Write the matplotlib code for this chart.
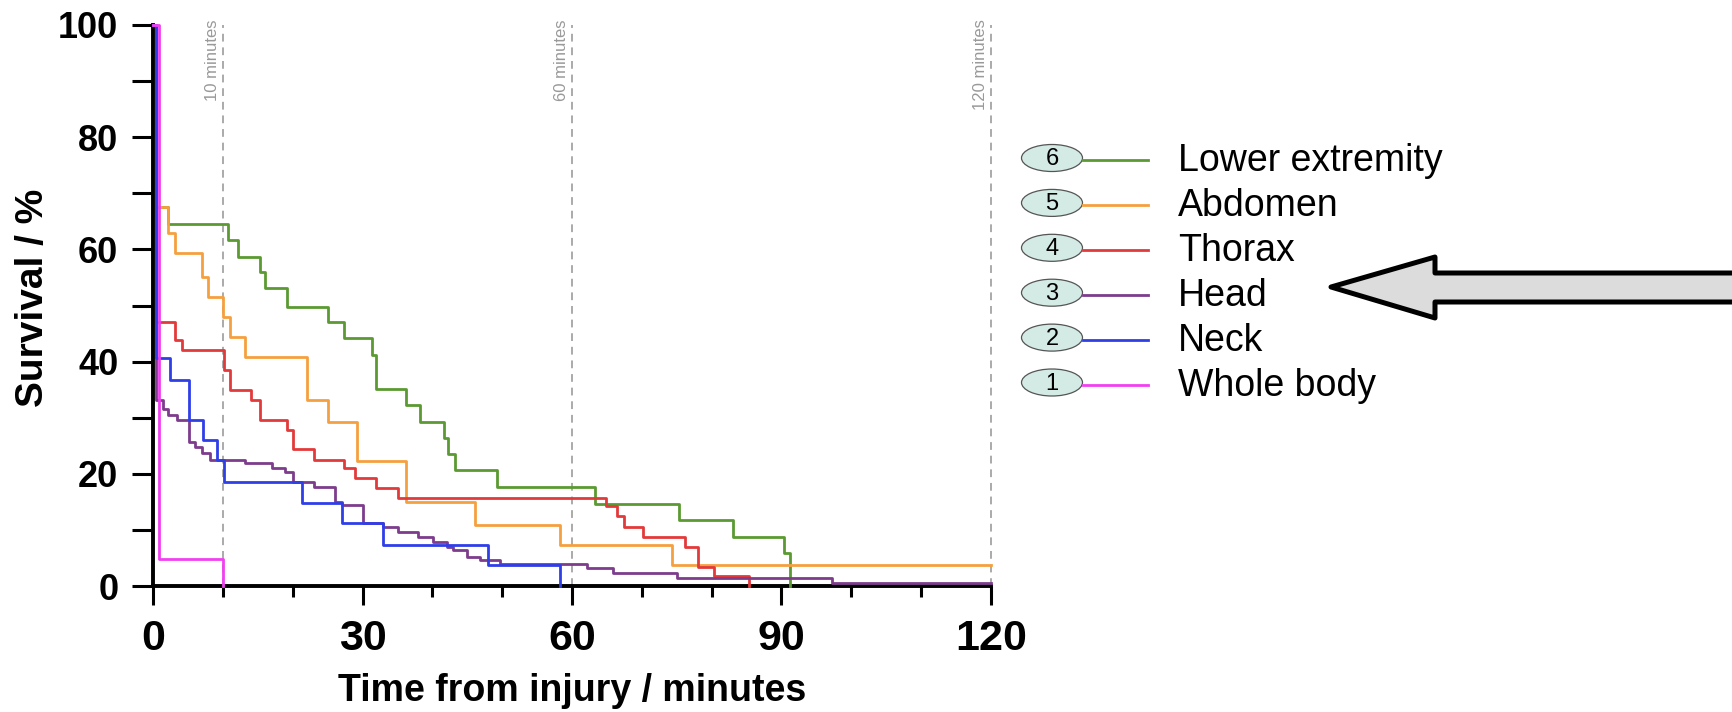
import numpy as np
import matplotlib
matplotlib.use("Agg")
import matplotlib.pyplot as plt
from matplotlib.patches import Ellipse, Polygon

plt.rcParams['font.family'] = ['Liberation Sans', 'DejaVu Sans']

# survival curves (time in minutes, survival in %)
lower_t = [0, 0.5, 2.2, 10.8, 12.2, 15.3, 16.0, 19.2, 25.1, 27.3, 31.3, 32.0, 36.3,
           38.3, 41.6, 42.3, 43.3, 49.2, 63.3, 75.3, 83.1, 90.3, 91.2]
lower_s = [100, 67.6, 64.6, 61.7, 58.7, 56.0, 53.1, 49.8, 47.1, 44.2, 41.2, 35.2, 32.3,
           29.3, 26.3, 23.5, 20.6, 17.6, 14.6, 11.7, 8.8, 5.8, 0]

abdomen_t = [0, 0.5, 2.2, 3.2, 7.0, 7.9, 10.0, 11.0, 13.2, 22.0, 25.1, 29.2, 36.3,
             46.1, 58.3, 74.3, 120]
abdomen_s = [100, 67.6, 62.9, 59.3, 55.1, 51.6, 48.0, 44.4, 40.9, 33.2, 29.3, 22.2, 15.0,
             10.9, 7.3, 3.7, 3.7]

thorax_t = [0, 0.5, 3.2, 4.1, 10.1, 11.0, 14.1, 15.3, 19.2, 20.1, 23.0, 27.3, 28.9,
            32.0, 35.1, 64.8, 66.4, 67.4, 70.2, 76.2, 78.1, 80.3, 85.3]
thorax_s = [100, 47.1, 43.8, 42.1, 38.5, 34.9, 33.2, 29.6, 27.8, 24.5, 22.5, 21.0, 19.2,
            17.4, 15.6, 14.2, 12.4, 10.6, 8.8, 7.0, 3.4, 1.7, 0]

head_t = [0, 0.5, 1.5, 2.2, 3.4, 5.1, 6.0, 7.0, 8.2, 13.2, 17.0, 18.9, 20.1, 23.0, 26.1,
          27.0, 30.1, 33.0, 35.1, 38.0, 40.1, 42.1, 43.0, 44.9, 46.8, 49.7, 62.1, 65.9,
          75.0, 97.2, 120]
head_s = [100, 33.2, 31.5, 30.5, 29.6, 25.7, 24.8, 23.7, 22.5, 21.9, 21.0, 20.4, 18.6, 17.7,
          15.0, 14.4, 11.2, 10.6, 9.7, 8.8, 7.9, 7.0, 6.4, 5.2, 4.6, 4.0, 3.2, 2.4,
          1.4, 0.5, 0.5]

neck_t = [0, 0.5, 2.4, 5.1, 7.2, 9.1, 10.1, 21.3, 27.0, 33.0, 48.0, 58.3]
neck_s = [100, 40.6, 36.7, 29.6, 26.0, 22.5, 18.6, 14.8, 11.2, 7.3, 3.7, 0]

whole_t = [0, 0.8, 10.0]
whole_s = [100, 4.8, 0]

labels = ['Lower extremity', 'Abdomen', 'Thorax', 'Head', 'Neck', 'Whole body']
numbers = ['6', '5', '4', '3', '2', '1']
colors = ['#5b9a32', '#f5a040', '#e23a3a', '#7d3c8c', '#2f3fe8', '#f040f0']
series = [(lower_t, lower_s), (abdomen_t, abdomen_s), (thorax_t, thorax_s),
          (head_t, head_s), (neck_t, neck_s), (whole_t, whole_s)]
marks = [10, 60, 120]

W, H = 1733, 712
fig = plt.figure(figsize=(W / 100, H / 100), dpi=100)

# overlay for the hand-made legend and the arrow (pixel coords)
ov = fig.add_axes([0, 0, 1, 1])
ov.set_xlim(0, W)
ov.set_ylim(H, 0)
ov.axis('off')

ax = fig.add_axes([153 / W, 1 - 586 / H, (991 - 153) / W, (586 - 25) / H])

for m in marks:
    ax.plot([m, m], [0, 100], color='#aaaaaa', lw=1.4, ls=(0, (4, 3)), clip_on=False, zorder=1)
    ax.text(m - 0.4, 101, f'{m} minutes', rotation=90, ha='right', va='top',
            fontsize=12, color='#999999')

for (t, s), c in zip(series, colors):
    ax.plot(t, s, drawstyle='steps-post', color=c, lw=2.0, clip_on=False, zorder=3)

ax.set_xlim(0, 120)
ax.set_ylim(0, 100)
ax.set_xticks([0, 30, 60, 90, 120])
ax.set_xticks(np.arange(0, 121, 10), minor=True)
ax.set_yticks([0, 20, 40, 60, 80, 100])
ax.set_yticks(np.arange(0, 101, 10), minor=True)
for sp in ['top', 'right']:
    ax.spines[sp].set_visible(False)
for sp in ['left', 'bottom']:
    ax.spines[sp].set_linewidth(2.8)
ax.tick_params(axis='x', which='major', length=14, width=2.2, pad=10, labelsize=31)
ax.tick_params(axis='x', which='minor', length=8, width=2.2)
ax.tick_params(axis='y', which='both', length=15, width=2.2, pad=10, labelsize=26)
for lab in ax.get_xticklabels() + ax.get_yticklabels():
    lab.set_fontweight('bold')
ax.set_xlabel('Time from injury / minutes', fontsize=27, fontweight='bold', labelpad=10)
ax.set_ylabel('Survival / %', fontsize=28, fontweight='bold')
ax.yaxis.set_label_coords(-0.122, 0.513)

# legend
for i, (lab, num, c) in enumerate(zip(labels, numbers, colors)):
    y = 160 + i * 44.9
    ov.add_patch(Ellipse((1052, y - 2), 61, 27, facecolor='#d3eae5',
                         edgecolor='#555555', lw=0.9))
    ov.text(1052, y - 1, num, ha='center', va='center', fontsize=17)
    ov.plot([1083, 1148], [y, y], color=c, lw=2.0)
    ov.text(1178, y + 1, lab, ha='left', va='center', fontsize=27)

# block arrow pointing at the legend
arrow = Polygon([(1331, 287), (1435, 257), (1435, 273), (1760, 273),
                 (1760, 302), (1435, 302), (1435, 318)], closed=True,
                facecolor='#dcdcdc', edgecolor='black', lw=3.6, joinstyle='round')
ov.add_patch(arrow)

fig.savefig('out.png', dpi=100)
